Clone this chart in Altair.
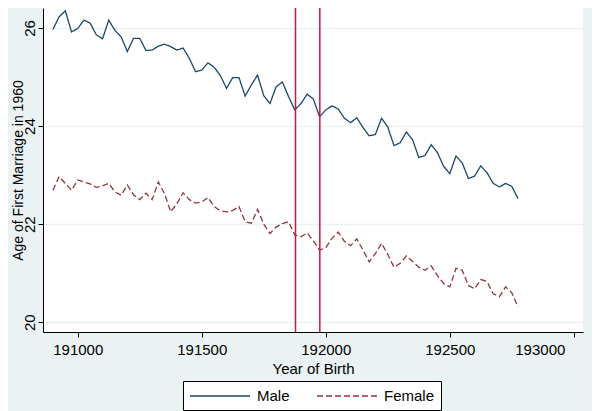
import altair as alt
import pandas as pd

years = [190900, 190925, 190950, 190975, 191000, 191025, 191050, 191075, 191100, 191125,
         191150, 191175, 191200, 191225, 191250, 191275, 191300, 191325, 191350, 191375,
         191400, 191425, 191450, 191475, 191500, 191525, 191550, 191575, 191600, 191625,
         191650, 191675, 191700, 191725, 191750, 191775, 191800, 191825, 191850, 191875,
         191900, 191925, 191950, 191975, 192000, 192025, 192050, 192075, 192100, 192125,
         192150, 192175, 192200, 192225, 192250, 192275, 192300, 192325, 192350, 192375,
         192400, 192425, 192450, 192475, 192500, 192525, 192550, 192575, 192600, 192625,
         192650, 192675, 192700, 192725, 192750, 192775]

male = [25.97, 26.23, 26.35, 25.92, 25.99, 26.16, 26.10, 25.86, 25.78, 26.16,
        25.95, 25.82, 25.52, 25.79, 25.79, 25.54, 25.55, 25.63, 25.67, 25.62,
        25.55, 25.59, 25.38, 25.11, 25.14, 25.29, 25.20, 25.03, 24.77, 24.99,
        24.99, 24.61, 24.84, 25.04, 24.62, 24.46, 24.80, 24.90, 24.60, 24.33,
        24.46, 24.65, 24.55, 24.19, 24.33, 24.41, 24.35, 24.16, 24.07, 24.17,
        23.97, 23.80, 23.83, 24.16, 23.98, 23.60, 23.66, 23.88, 23.72, 23.36,
        23.40, 23.62, 23.46, 23.18, 23.03, 23.39, 23.25, 22.93, 22.98, 23.19,
        23.05, 22.83, 22.76, 22.83, 22.77, 22.52]

female = [22.69, 22.97, 22.83, 22.69, 22.90, 22.86, 22.82, 22.75, 22.78, 22.83,
          22.66, 22.59, 22.80, 22.60, 22.50, 22.63, 22.50, 22.86, 22.62, 22.25,
          22.42, 22.64, 22.50, 22.43, 22.45, 22.54, 22.36, 22.27, 22.25, 22.28,
          22.36, 22.05, 22.02, 22.30, 22.00, 21.81, 21.94, 22.01, 22.05, 21.78,
          21.74, 21.82, 21.66, 21.47, 21.52, 21.71, 21.84, 21.65, 21.56, 21.70,
          21.47, 21.23, 21.40, 21.61, 21.38, 21.12, 21.20, 21.35, 21.24, 21.12,
          21.06, 21.15, 20.95, 20.79, 20.72, 21.10, 21.06, 20.75, 20.68, 20.87,
          20.83, 20.58, 20.52, 20.72, 20.60, 20.31]

series_names = ["Male", "Female"]
series_colors = ["#1a476f", "#90353b"]
vlines = [191878, 191976]
x_ticks = [191000, 191500, 192000, 192500, 193000]
y_ticks = [20, 22, 24, 26]

df = pd.DataFrame({
    "year": years + years,
    "age": male + female,
    "sex": ["Male"] * len(years) + ["Female"] * len(years),
})
df_v = pd.DataFrame({"x": vlines})

FONT = "Arial, Liberation Sans"

xscale = alt.Scale(domain=[190860, 193037], nice=False, zero=False)
yscale = alt.Scale(domain=[19.8, 26.408], nice=False, zero=False)

legend = alt.Legend(
    title=None, orient="none", legendX=140, legendY=373, direction="horizontal",
    strokeColor="black", fillColor="white", padding=6, cornerRadius=0,
    symbolType="M-1,0H6.5", symbolSize=256, symbolStrokeWidth=1.5,
    labelOffset=50, columnPadding=24, labelFontSize=15, labelFont=FONT,
    labelColor="black",
)

lines = alt.Chart(df).mark_line(strokeWidth=1.3).encode(
    x=alt.X("year:Q", scale=xscale,
            axis=alt.Axis(values=x_ticks, format="d", title="Year of Birth",
                          grid=False, tickSize=5, labelPadding=5, titlePadding=4,
                          labelFlush=15, labelFlushOffset=-9)),
    y=alt.Y("age:Q", scale=yscale,
            axis=alt.Axis(values=y_ticks, title="Age of First Marriage in 1960",
                          grid=True, gridColor="#eaf2f3", gridWidth=1.5,
                          tickSize=5, labelAngle=270, labelAlign="center",
                          labelBaseline="bottom", labelPadding=1,
                          titleFontSize=14, titleAngle=270, titleAlign="center",
                          titleBaseline="alphabetic", titleX=-21, titleY=162)),
    color=alt.Color("sex:N", scale=alt.Scale(domain=series_names, range=series_colors),
                    legend=legend),
    strokeDash=alt.StrokeDash("sex:N", scale=alt.Scale(domain=series_names, range=[[1, 0], [6, 3]]),
                              legend=legend),
)

rules = alt.Chart(df_v).mark_rule(color="#cf1540", strokeWidth=1.5).encode(
    x=alt.X("x:Q", scale=xscale)
)

chart = alt.layer(lines, rules).properties(
    width=540, height=324,
    autosize=alt.AutoSizeParams(type="none"),
    padding={"left": 35, "top": 0, "right": 9, "bottom": 79},
    background="#eaf2f3",
).configure_view(fill="white", stroke=None).configure_axis(
    domainColor="black", tickColor="black", labelColor="black", titleColor="black",
    labelFont=FONT, titleFont=FONT, labelFontSize=15, titleFontSize=15,
    titleFontWeight="normal", domainWidth=1, tickWidth=1,
)

chart.save("out.html", embed_options={"renderer": "svg", "actions": False})
